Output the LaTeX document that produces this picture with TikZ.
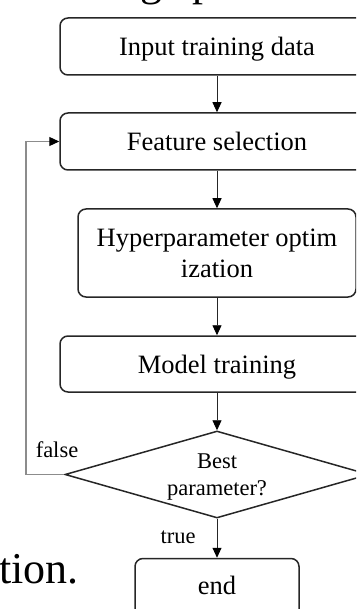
\documentclass[tikz,border=0pt]{standalone}
\usepackage{fontspec}
\setmainfont{Liberation Serif}
\usetikzlibrary{shapes.geometric,arrows.meta}
\begin{document}
\begin{tikzpicture}[x=1pt,y=-1pt,
  stepbox/.style={draw=black!85, line width=1.5pt, rounded corners=8pt,
    inner sep=0pt, align=center, text depth=0pt,
    font=\fontsize{26.5}{31}\selectfont},
  decision/.style={diamond, draw=black!85, line width=1.5pt, aspect=3.5,
    inner sep=0pt, align=center, text depth=0pt,
    font=\fontsize{22.5}{27}\selectfont},
  lbl/.style={inner sep=0pt, font=\fontsize{22.5}{27}\selectfont},
  bigtext/.style={inner sep=0pt, anchor=base west, font=\fontsize{44}{50}\selectfont},
  tip/.style={-{Triangle[length=10pt,width=9pt,black]}},
  flow/.style={draw=black!85, line width=0.9pt, tip},
  back/.style={draw=black!45, line width=1.2pt, tip}]
\useasboundingbox (0,0) rectangle (356,609);
\clip (0,0) rectangle (356,609);

% surrounding page text
\node[bigtext] (txtg) at (140,-4.5) {g};
\node[bigtext] (txtp) at (192,-4.5) {p};
\node[bigtext] (txttail) at (-1,583) {tion.};

% process steps
\node[stepbox, minimum width=314pt, minimum height=57pt] (input) at (217,46.5) {Input training data};
\node[stepbox, minimum width=314pt, minimum height=57pt] (feat) at (217,141.5) {Feature selection};
\node[stepbox, minimum width=278pt, minimum height=88pt] (hyper) at (217,253) {Hyperparameter optim\\ization};
\node[stepbox, minimum width=314pt, minimum height=56pt] (model) at (217,364) {Model training};
\node[decision, minimum width=304pt, minimum height=87pt] (best) at (217,474.5) {Best\\parameter?};
\node[stepbox, minimum width=164pt, minimum height=60pt, text height=12pt] (end) at (217,588.5) {end};

% branch labels
\node[lbl] (falselbl) at (57,450) {false};
\node[lbl] (truelbl) at (178,537) {true};

% connectors
\draw[flow] (input) -- (feat);
\draw[flow] (feat) -- (hyper);
\draw[flow] (hyper) -- (model);
\draw[flow] (model) -- (best);
\draw[flow] (best) -- (end);
\coordinate (loop) at (26,474.5);
\draw[back] (best.west) -- (loop) |- (feat.west);
\end{tikzpicture}
\end{document}
